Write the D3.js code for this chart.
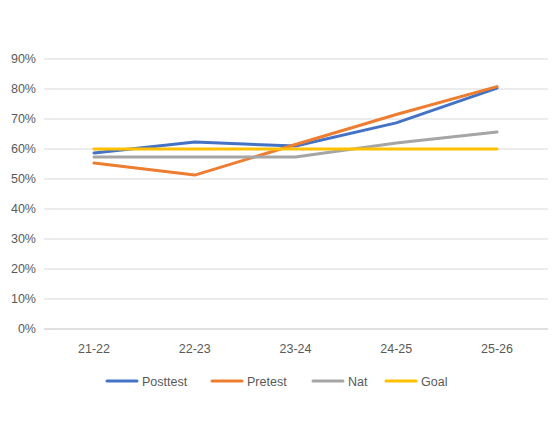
<!DOCTYPE html>
<html lang="en">
<head>
<meta charset="UTF-8">
<script src="https://cdn.jsdelivr.net/npm/d3@7"></script>
<style>body{margin:0;background:#fff;} text{font-family:"Liberation Sans",Arial,sans-serif;fill:#595959;font-size:12.5px;}</style>
</head>
<body>
<svg width="555" height="444"></svg>
<script>
var categories = ['21-22','22-23','23-24','24-25','25-26'];
var posttest = [58.7, 62.3, 61, 68.7, 80.3];
var pretest = [55.3, 51.3, 61.5, 71.5, 80.8];
var nat = [57.3, 57.3, 57.3, 62, 65.7];
var goal = [60, 60, 60, 60, 60];
var yTicks = [0,10,20,30,40,50,60,70,80,90];

var series = [
    {name:'Posttest', values:posttest, color:'#4472C4'},
    {name:'Pretest', values:pretest, color:'#ED7D31'},
    {name:'Nat', values:nat, color:'#A5A5A5'},
    {name:'Goal', values:goal, color:'#FFC000'}
];

var svg = d3.select('svg');
var x = d3.scalePoint().domain(categories).range([94,497]);
var y = d3.scaleLinear().domain([0,90]).range([329,59]);

// gridlines
svg.selectAll('.grid').data(yTicks).enter().append('line')
    .attr('x1',44).attr('x2',548)
    .attr('y1',function(d){return y(d)}).attr('y2',function(d){return y(d)})
    .attr('stroke',function(d){return d===0?'#bfbfbf':'#d9d9d9'}).attr('stroke-width',1);

svg.selectAll('.ylab').data(yTicks).enter().append('text')
    .attr('x',36).attr('y',function(d){return y(d)+4})
    .attr('text-anchor','end').text(function(d){return d+'%'});

svg.selectAll('.xlab').data(categories).enter().append('text')
    .attr('x',function(d){return x(d)}).attr('y',353)
    .attr('text-anchor','middle').text(function(d){return d});

var line = d3.line()
    .x(function(d,i){return x(categories[i])})
    .y(function(d){return y(d)});

series.forEach(function(s){
    svg.append('path').attr('d',line(s.values))
        .attr('fill','none').attr('stroke',s.color)
        .attr('stroke-width',3).attr('stroke-linejoin','round').attr('stroke-linecap','round');
});

// legend
var legX = [107,212,313,386];
series.forEach(function(s,i){
    var g = svg.append('g').attr('transform','translate('+legX[i]+',381)');
    g.append('line').attr('x1',0).attr('x2',30).attr('y1',0).attr('y2',0)
        .attr('stroke',s.color).attr('stroke-width',3).attr('stroke-linecap','round');
    g.append('text').attr('x',35).attr('y',4.5).text(s.name);
});
</script>
</body>
</html>
